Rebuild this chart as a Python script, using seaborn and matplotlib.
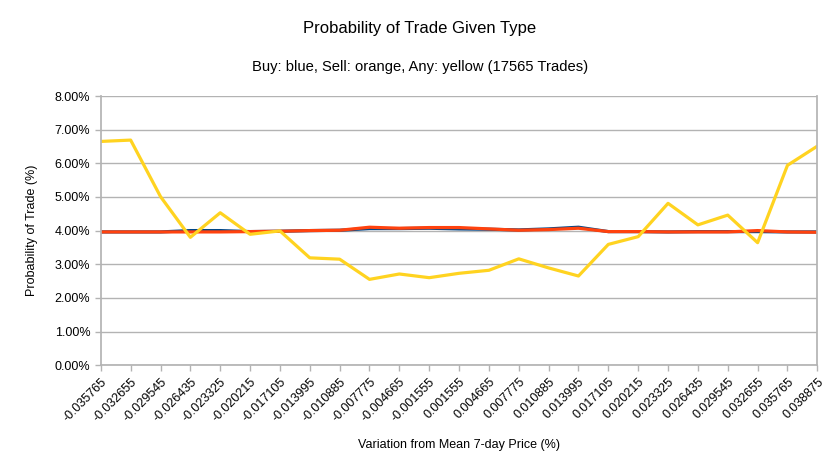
import pandas as pd
import matplotlib.pyplot as plt
import seaborn as sns
from matplotlib.ticker import FuncFormatter

# Category labels (variation from mean 7-day price)
variation = ['-0.035765', '-0.032655', '-0.029545', '-0.026435', '-0.023325',
             '-0.020215', '-0.017105', '-0.013995', '-0.010885', '-0.007775',
             '-0.004665', '-0.001555', '0.001555', '0.004665', '0.007775',
             '0.010885', '0.013995', '0.017105', '0.020215', '0.023325',
             '0.026435', '0.029545', '0.032655', '0.035765', '0.038875']

# Probability of trade (%) per series
buy = [3.96, 3.96, 3.96, 4.00, 4.00, 3.97, 3.98, 4.00, 4.01, 4.06,
       4.06, 4.07, 4.05, 4.04, 4.02, 4.05, 4.10, 3.97, 3.97, 3.96,
       3.97, 3.97, 3.97, 3.96, 3.96]
sell = [3.96, 3.96, 3.96, 3.96, 3.96, 3.97, 3.98, 4.00, 4.01, 4.10,
        4.07, 4.09, 4.09, 4.05, 4.01, 4.03, 4.07, 3.97, 3.97, 3.96,
        3.96, 3.96, 4.00, 3.96, 3.95]
any_ = [6.65, 6.69, 5.01, 3.80, 4.53, 3.89, 3.99, 3.19, 3.15, 2.55,
        2.71, 2.60, 2.73, 2.82, 3.16, 2.89, 2.65, 3.59, 3.82, 4.81,
        4.17, 4.46, 3.64, 5.94, 6.51]

df = pd.DataFrame({
    'Variation': variation * 3,
    'Probability': buy + sell + any_,
    'Type': ['Buy'] * len(buy) + ['Sell'] * len(sell) + ['Any'] * len(any_),
})

sns.set_theme(style='white')
plt.rcParams['font.family'] = ['Liberation Sans', 'DejaVu Sans']
plt.rcParams['text.color'] = 'black'
plt.rcParams['axes.labelcolor'] = 'black'

fig, ax = plt.subplots(figsize=(8.4, 4.73), dpi=100)
fig.subplots_adjust(left=0.120, right=0.973, top=0.797, bottom=0.228)

sns.lineplot(data=df, x='Variation', y='Probability', hue='Type', sort=False,
             palette={'Buy': '#004586', 'Sell': '#ff420e', 'Any': '#ffd320'},
             linewidth=2.3, legend=False, ax=ax)

ax.set_xlim(0, len(variation) - 1)
ax.set_ylim(0, 8)
ax.set_yticks(range(0, 9))
ax.yaxis.set_major_formatter(FuncFormatter(lambda v, p: f'{v:.2f}%'))
ax.yaxis.grid(True, color='#b3b3b3', linewidth=1)
ax.set_axisbelow(True)

for side in ['left', 'bottom', 'right']:
    ax.spines[side].set_color('#b3b3b3')
ax.spines['top'].set_visible(False)

ax.tick_params(axis='both', which='major', length=4, width=1, color='#b3b3b3',
               labelsize=9, labelcolor='#000000', direction='out',
               bottom=True, left=True)
plt.setp(ax.get_xticklabels(), rotation=45, ha='right', rotation_mode='anchor')

ax.set_xlabel('Variation from Mean 7-day Price (%)', fontsize=9, labelpad=11)
ax.set_ylabel('Probability of Trade (%)', fontsize=9, labelpad=12)

fig.text(0.5, 0.939, 'Probability of Trade Given Type', ha='center', va='center',
         fontsize=12)
fig.text(0.5, 0.858, 'Buy: blue, Sell: orange, Any: yellow (17565 Trades)',
         ha='center', va='center', fontsize=10.6)

fig.savefig('out.png', dpi=100)
